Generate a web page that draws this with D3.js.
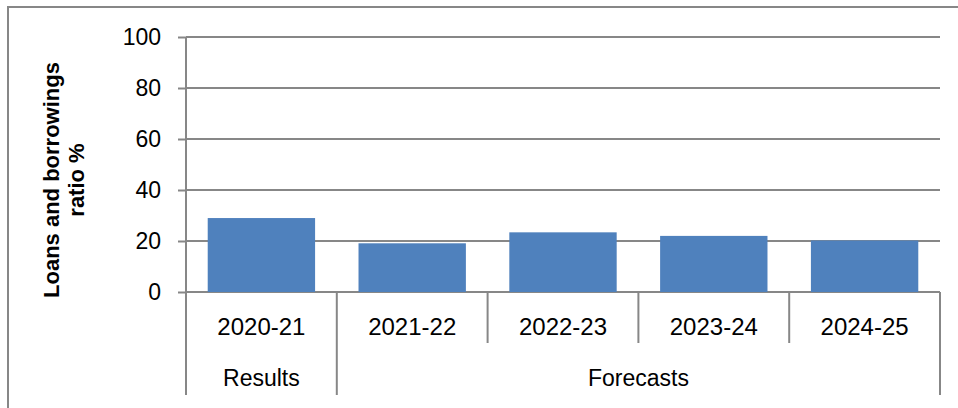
<!DOCTYPE html>
<html>
<head>
<meta charset="utf-8">
<script src="https://cdn.jsdelivr.net/npm/d3@7"></script>
<style>
  body { margin: 0; background: #fff; }
  text { font-family: "Liberation Sans", Arial, sans-serif; fill: #000; }
</style>
</head>
<body>
<div id="chart"></div>
<script>
const years = ["2020-21", "2021-22", "2022-23", "2023-24", "2024-25"];
const ratios = [29, 19.1, 23.4, 22, 20.2];
const groupOf = ["Results", "Forecasts", "Forecasts", "Forecasts", "Forecasts"];
const groupLabels = ["Results", "Forecasts"];
const yTicks = [0, 20, 40, 60, 80, 100];

const width = 958;
const height = 408;
const margin = { top: 37, right: 18, bottom: 116, left: 186 };
const gridColor = "#878787";

const svg = d3
  .select("#chart")
  .append("svg")
  .attr("width", width)
  .attr("height", height);

// outer chart frame
svg
  .append("rect")
  .attr("x", 8)
  .attr("y", 7)
  .attr("width", width)
  .attr("height", height)
  .attr("fill", "none")
  .attr("stroke", gridColor)
  .attr("stroke-width", 2);

const x = d3
  .scaleBand()
  .domain(years)
  .range([margin.left, width - margin.right])
  .paddingInner(0.288)
  .paddingOuter(0.144);

const y = d3
  .scaleLinear()
  .domain([0, 100])
  .range([height - margin.bottom, margin.top]);

const step = x.step();
const gap = step * x.paddingInner();
const x0 = margin.left;
const x1 = width - margin.right;

// gridlines
svg
  .append("g")
  .selectAll("line")
  .data(yTicks)
  .join("line")
  .attr("x1", x0)
  .attr("x2", x1)
  .attr("y1", (d) => y(d))
  .attr("y2", (d) => y(d))
  .attr("stroke", gridColor)
  .attr("stroke-width", 2);

// y axis
const yAxis = svg
  .append("g")
  .attr("transform", `translate(${x0},0)`)
  .call(d3.axisLeft(y).tickValues(yTicks).tickSize(8).tickPadding(17));
yAxis.select(".domain").remove();
yAxis.selectAll(".tick line").attr("stroke", gridColor).attr("stroke-width", 2);
yAxis
  .selectAll(".tick text")
  .attr("font-size", 23)
  .attr("font-family", "Liberation Sans, Arial, sans-serif")
  .attr("fill", "#000");

// bars
svg
  .append("g")
  .selectAll("rect")
  .data(ratios)
  .join("rect")
  .attr("x", (d, i) => x(years[i]))
  .attr("y", (d) => y(d))
  .attr("width", x.bandwidth())
  .attr("height", (d) => y(0) - y(d))
  .attr("fill", "#4F81BD");

// vertical axis line
svg
  .append("line")
  .attr("x1", x0)
  .attr("x2", x0)
  .attr("y1", y(100))
  .attr("y2", 395)
  .attr("stroke", gridColor)
  .attr("stroke-width", 2);

// category separators
const bounds = d3.range(1, years.length + 1).map((i) => ({
  x: i < years.length ? x(years[i]) - gap / 2 : x1,
  group: i === years.length || groupOf[i] !== groupOf[i - 1],
}));
svg
  .append("g")
  .selectAll("line")
  .data(bounds)
  .join("line")
  .attr("x1", (d) => d.x)
  .attr("x2", (d) => d.x)
  .attr("y1", y(0))
  .attr("y2", (d) => (d.group ? 395 : 343))
  .attr("stroke", gridColor)
  .attr("stroke-width", 2);

// year labels
svg
  .append("g")
  .selectAll("text")
  .data(years)
  .join("text")
  .attr("x", (d) => x(d) + x.bandwidth() / 2)
  .attr("y", 335)
  .attr("text-anchor", "middle")
  .attr("font-size", 24)
  .text((d) => d);

// group labels
svg
  .append("g")
  .selectAll("text")
  .data(groupLabels)
  .join("text")
  .attr("x", (g) => {
    const idx = years.map((d, i) => i).filter((i) => groupOf[i] === g);
    const a = x(years[idx[0]]) - gap / 2;
    const last = idx[idx.length - 1];
    const b = last < years.length - 1 ? x(years[last + 1]) - gap / 2 : x1;
    return (a + b) / 2;
  })
  .attr("y", 386)
  .attr("text-anchor", "middle")
  .attr("font-size", 23)
  .text((d) => d);

// y axis title
const title = svg
  .append("text")
  .attr("transform", "translate(0,180) rotate(-90)")
  .attr("text-anchor", "middle")
  .attr("font-size", 22)
  .attr("font-weight", "bold");
title.append("tspan").attr("x", 0).attr("y", 59).text("Loans and borrowings");
title.append("tspan").attr("x", 0).attr("y", 84).text("ratio %");
</script>
</body>
</html>
